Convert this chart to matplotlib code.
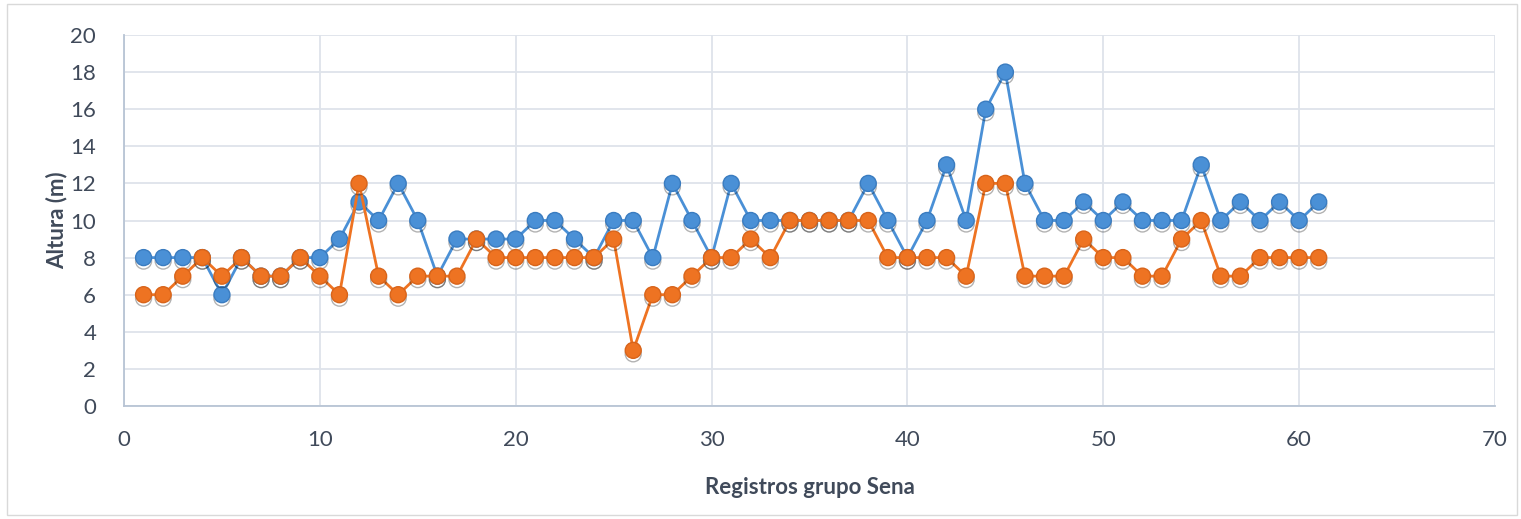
import matplotlib.pyplot as plt
import matplotlib.patheffects as pe
from matplotlib.patches import Rectangle

registros = list(range(1, 62))
altura_a = [8, 8, 8, 8, 6, 8, 7, 7, 8, 8, 9, 11, 10, 12, 10, 7, 9, 9, 9, 9,
            10, 10, 9, 8, 10, 10, 8, 12, 10, 8, 12, 10, 10, 10, 10, 10, 10, 12, 10, 8,
            10, 13, 10, 16, 18, 12, 10, 10, 11, 10, 11, 10, 10, 10, 13, 10, 11, 10, 11, 10,
            11]
altura_b = [6, 6, 7, 8, 7, 8, 7, 7, 8, 7, 6, 12, 7, 6, 7, 7, 7, 9, 8, 8,
            8, 8, 8, 8, 9, 3, 6, 6, 7, 8, 8, 9, 8, 10, 10, 10, 10, 10, 8, 8,
            8, 8, 7, 12, 12, 7, 7, 7, 9, 8, 8, 7, 7, 9, 10, 7, 7, 8, 8, 8,
            8]

plt.rcParams['font.family'] = ['Lato', 'DejaVu Sans']
txt = '#404A5A'
fig = plt.figure(figsize=(15.21, 5.19), dpi=100)
ax = fig.add_axes([124 / 1521, 1 - 406 / 519, (1495 - 124) / 1521, (406 - 35) / 519])

# outer chart border
fig.patches.append(Rectangle((7 / 1521, 4 / 519), 1510 / 1521, 511 / 519,
                             transform=fig.transFigure, fill=False,
                             edgecolor='#D9D9D9', linewidth=1))

shadow = [pe.SimpleLineShadow(offset=(0, -2.5), shadow_color='black', alpha=0.3),
          pe.Normal()]
series = [(altura_a, '#4A90D6', '#3A7CC0', 3), (altura_b, '#EE7322', '#D8641A', 5)]
for vals, c, ec, z in series:
    ax.plot(registros, vals, '-', color=c, linewidth=2, zorder=z)
    ax.plot(registros, vals, 'o', color=c, markeredgecolor=ec, markersize=11.5,
            path_effects=shadow, zorder=z + 1)

ax.set_xlim(0, 70)
ax.set_ylim(0, 20)
ax.set_xticks(range(0, 71, 10))
ax.set_yticks(range(0, 21, 2))
ax.grid(True, color='#DEE3EA', linewidth=1.3)
ax.set_axisbelow(True)
for s in ['top', 'right']:
    ax.spines[s].set_visible(False)
for s in ['left', 'bottom']:
    ax.spines[s].set_color('#B8C4D4')
    ax.spines[s].set_linewidth(1.3)
ax.tick_params(length=0, labelsize=16, labelcolor=txt)
ax.tick_params(axis='x', pad=17)
ax.tick_params(axis='y', pad=20)

ax.set_xlabel('Registros grupo Sena', fontsize=16, fontweight='bold', color=txt, labelpad=20)
ax.set_ylabel('Altura (m)', fontsize=16, fontweight='bold', color=txt)
ax.yaxis.set_label_coords(-0.0415, 0.5)

fig.savefig('out.png', dpi=100)
